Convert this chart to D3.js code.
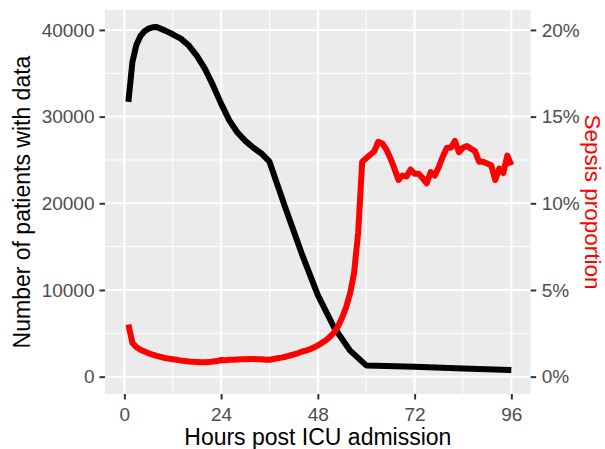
<!DOCTYPE html>
<html>
<head>
<meta charset="utf-8">
<script src="https://cdn.jsdelivr.net/npm/d3@7"></script>
<style>
  body { margin: 0; background: #fff; }
  text { font-family: "Liberation Sans", Arial, sans-serif; }
</style>
</head>
<body>
<svg id="chart" width="605" height="449"></svg>
<script>
// hours with a patient count, and the count at that hour
const countHours = [1, 2, 3, 4, 5, 6, 7, 8, 10, 12, 14, 16, 18, 20, 22, 24, 26, 28, 30, 32, 34, 36, 40, 44, 48, 52, 56, 60, 72, 84, 96];
const patientCounts = [31700, 36300, 38300, 39300, 39850, 40150, 40300, 40350, 39950, 39500, 39000, 38200, 37000, 35500, 33600, 31500, 29600, 28200, 27200, 26400, 25750, 24800, 19400, 14200, 9400, 5700, 3000, 1300, 1150, 950, 770];

// sepsis proportion (%) for hours 1..96
const sepsisHours = d3.range(1, 97);
const sepsisPct = [
  3.0, 1.95, 1.7, 1.55, 1.45, 1.35, 1.27, 1.2, 1.14, 1.08,
  1.04, 1.0, 0.97, 0.93, 0.9, 0.87, 0.86, 0.85, 0.83, 0.83,
  0.84, 0.87, 0.9, 0.96, 0.95, 0.97, 0.98, 0.99, 1.0, 1.0,
  1.02, 1.02, 1.0, 1.01, 0.98, 0.97, 1.02, 1.06, 1.1, 1.15,
  1.22, 1.28, 1.35, 1.44, 1.5, 1.58, 1.68, 1.8, 1.95, 2.1,
  2.3, 2.55, 2.9, 3.4, 4.0, 4.8, 6.0, 8.3, 12.4, 12.6,
  12.8, 13.0, 13.55, 13.45, 13.1, 12.6, 12.0, 11.35, 11.6, 11.55,
  11.95, 11.7, 11.7, 11.45, 11.15, 11.8, 11.6, 12.1, 12.7, 13.2,
  13.2, 13.6, 12.95, 13.2, 13.3, 13.15, 13.0, 12.4, 12.4, 12.3,
  12.2, 11.35, 12.0, 11.75, 12.75, 12.2
];

const xTicks = [0, 24, 48, 72, 96];
const yTicks = [0, 10000, 20000, 30000, 40000];
const pctTicks = [0, 5, 10, 15, 20];

const xTitle = "Hours post ICU admission";
const yTitle = "Number of patients with data";
const y2Title = "Sepsis proportion";

// secondary axis: 20% sits at 40000
const pctFactor = 2000;

const panel = { left: 105, right: 530.7, top: 10, bottom: 394 };

const svg = d3.select("#chart");

const xScale = d3.scaleLinear()
  .domain([-4.8, 100.8])
  .range([panel.left, panel.right]);

const yScale = d3.scaleLinear()
  .domain([-2000, 42300])
  .range([panel.bottom, panel.top]);

const pctScale = d3.scaleLinear()
  .domain(yScale.domain().map(d => d / pctFactor))
  .range([panel.bottom, panel.top]);

// panel background
svg.append("rect")
  .attr("x", panel.left)
  .attr("y", panel.top)
  .attr("width", panel.right - panel.left)
  .attr("height", panel.bottom - panel.top)
  .attr("fill", "#EBEBEB");

// grid lines
const grid = svg.append("g");
const xMinor = xTicks.slice(0, -1).map((d, i) => (d + xTicks[i + 1]) / 2);
const yMinor = yTicks.slice(0, -1).map((d, i) => (d + yTicks[i + 1]) / 2);

grid.selectAll(".xminor").data(xMinor).enter().append("line")
  .attr("x1", d => xScale(d)).attr("x2", d => xScale(d))
  .attr("y1", panel.top).attr("y2", panel.bottom)
  .attr("stroke", "#fff").attr("stroke-width", 1);
grid.selectAll(".yminor").data(yMinor).enter().append("line")
  .attr("y1", d => yScale(d)).attr("y2", d => yScale(d))
  .attr("x1", panel.left).attr("x2", panel.right)
  .attr("stroke", "#fff").attr("stroke-width", 1);
grid.selectAll(".xmajor").data(xTicks).enter().append("line")
  .attr("x1", d => xScale(d)).attr("x2", d => xScale(d))
  .attr("y1", panel.top).attr("y2", panel.bottom)
  .attr("stroke", "#fff").attr("stroke-width", 2);
grid.selectAll(".ymajor").data(yTicks).enter().append("line")
  .attr("y1", d => yScale(d)).attr("y2", d => yScale(d))
  .attr("x1", panel.left).attr("x2", panel.right)
  .attr("stroke", "#fff").attr("stroke-width", 2);

// lines
const countLine = d3.line()
  .x((d, i) => xScale(countHours[i]))
  .y(d => yScale(d));

svg.append("path")
  .datum(patientCounts)
  .attr("d", countLine)
  .attr("fill", "none")
  .attr("stroke", "#000")
  .attr("stroke-width", 6)
  .attr("stroke-linejoin", "round");

const sepsisLine = d3.line()
  .x((d, i) => xScale(sepsisHours[i]))
  .y(d => yScale(d * pctFactor));

svg.append("path")
  .datum(sepsisPct)
  .attr("d", sepsisLine)
  .attr("fill", "none")
  .attr("stroke", "#FF0000")
  .attr("stroke-width", 6)
  .attr("stroke-linejoin", "round");

// axes
const styleAxis = (g) => {
  g.select(".domain").remove();
  g.selectAll(".tick line").attr("stroke", "#333333").attr("stroke-width", 2);
  g.selectAll(".tick text")
    .attr("fill", "#4D4D4D")
    .style("font-size", "19px")
    .style("font-family", "'Liberation Sans', Arial, sans-serif");
};

svg.append("g")
  .attr("transform", `translate(0, ${panel.bottom})`)
  .call(d3.axisBottom(xScale).tickValues(xTicks).tickSize(5.5).tickPadding(8))
  .call(styleAxis);

svg.append("g")
  .attr("transform", `translate(${panel.left}, 0)`)
  .call(d3.axisLeft(yScale).tickValues(yTicks).tickFormat(d3.format("d")).tickSize(5.5).tickPadding(5))
  .call(styleAxis);

svg.append("g")
  .attr("transform", `translate(${panel.right}, 0)`)
  .call(d3.axisRight(pctScale).tickValues(pctTicks).tickFormat(d => d + "%").tickSize(5.5).tickPadding(5.5))
  .call(styleAxis);

// titles
const midX = (panel.left + panel.right) / 2;
const midY = (panel.top + panel.bottom) / 2;

svg.append("text")
  .attr("x", midX)
  .attr("y", 445)
  .attr("text-anchor", "middle")
  .style("font-size", "23px")
  .attr("fill", "#000")
  .text(xTitle);

svg.append("text")
  .attr("transform", `translate(30, ${midY}) rotate(-90)`)
  .attr("text-anchor", "middle")
  .style("font-size", "23px")
  .attr("fill", "#000")
  .text(yTitle);

svg.append("text")
  .attr("transform", `translate(585, ${midY}) rotate(90)`)
  .attr("text-anchor", "middle")
  .style("font-size", "22.5px")
  .attr("fill", "#FF0000")
  .text(y2Title);
</script>
</body>
</html>
